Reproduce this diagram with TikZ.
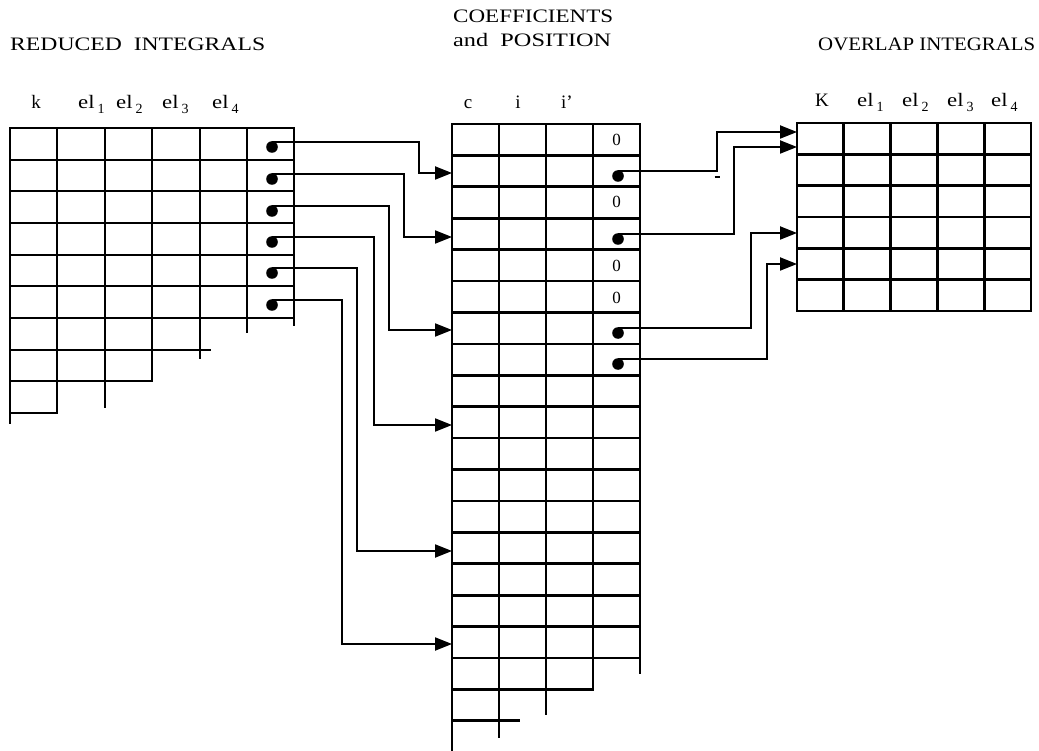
\documentclass[tikz,border=0pt]{standalone}
\usepackage{fontspec}
\setmainfont{Liberation Serif}
\usetikzlibrary{arrows.meta}
\newcommand{\hd}[2]{\resizebox{#1pt}{\height}{#2}}
\newcommand{\elx}[1]{\resizebox{1.2\width}{\height}{el}\hspace{3pt}\raisebox{-5pt}{\fontsize{14}{14}\selectfont #1}}
\tikzset{
  tbl/.style={line width=2.7pt, line cap=rect},
  conn/.style={line width=2.1pt},
  arr/.style={conn, -{Triangle[length=17pt,width=13pt]}},
  dotc/.style={fill=black, draw=none},
  head/.style={inner sep=0pt, font=\fontsize{19}{22}\selectfont},
  lbl/.style={inner sep=0pt, font=\fontsize{19}{22}\selectfont},
  zero/.style={inner sep=0pt, font=\fontsize{17}{18}\selectfont}
}
\begin{document}
\begin{tikzpicture}[x={(1pt,0)}, y={(0,-1pt)}]
\useasboundingbox (0,0) rectangle (1039,751);

% ---------- headings ----------
\node[head, anchor=base west] (hRed) at (10,51) {\hd{255}{REDUCED\ \ INTEGRALS}};
\node[head, anchor=base west] (hCoef) at (453,23) {\hd{160}{COEFFICIENTS}};
\node[head, anchor=base west] (hPos) at (453,47) {\hd{158}{and\ \ POSITION}};
\node[head, anchor=base west] (hOvl) at (818,51) {\hd{217}{OVERLAP INTEGRALS}};

% ---------- column labels ----------
\node[lbl, anchor=base] (lk) at (36,109) {k};
\node[lbl, anchor=base west] (le1) at (78,109) {\elx{1}};
\node[lbl, anchor=base west] (le2) at (116,109) {\elx{2}};
\node[lbl, anchor=base west] (le3) at (162,109) {\elx{3}};
\node[lbl, anchor=base west] (le4) at (212,109) {\elx{4}};

\node[lbl, anchor=base] (mc) at (468,109) {c};
\node[lbl, anchor=base] (mi) at (518,109) {i};
\node[lbl, anchor=base] (mip) at (567,109) {i\char"27};

\node[lbl, anchor=base] (rK) at (822,107) {K};
\node[lbl, anchor=base west] (re1) at (857,107) {\elx{1}};
\node[lbl, anchor=base west] (re2) at (902,107) {\elx{2}};
\node[lbl, anchor=base west] (re3) at (947,107) {\elx{3}};
\node[lbl, anchor=base west] (re4) at (991,107) {\elx{4}};

% ---------- left table (reduced integrals) ----------
\foreach \y in {128,160,191,223,255,286,318}
  \draw[tbl] (10,\y) -- (294,\y);
\foreach \x in {10,57,105,152,200,247,294}
  \draw[tbl] (\x,128) -- (\x,318);
\draw[tbl] (247,318) -- (247,332);
\draw[tbl] (294,318) -- (294,325);
\draw[tbl] (10,318) -- (10,423);
\draw[tbl] (57,318) -- (57,413);
\draw[tbl] (105,318) -- (105,407);
\draw[tbl] (152,318) -- (152,381);
\draw[tbl] (200,318) -- (200,358);
\draw[tbl] (10,350) -- (210,350);
\draw[tbl] (10,381) -- (152,381);
\draw[tbl] (10,413) -- (57,413);

% ---------- middle table (coefficients and position) ----------
\foreach \j in {0,...,17}
  \draw[tbl] (452,{124+31.41*\j}) -- (640,{124+31.41*\j});
\foreach \x in {452,499,546,593,640}
  \draw[tbl] (\x,124) -- (\x,658);
\draw[tbl] (640,658) -- (640,673);
\draw[tbl] (593,658) -- (593,689.4);
\draw[tbl] (546,658) -- (546,714);
\draw[tbl] (499,658) -- (499,737);
\draw[tbl] (452,658) -- (452,750);
\draw[tbl] (452,689.4) -- (593,689.4);
\draw[tbl] (452,720.8) -- (519,720.8);

\node[zero] (z1) at (616.5,140) {0};
\node[zero] (z3) at (616.5,202) {0};
\node[zero] (z5) at (616.5,266) {0};
\node[zero] (z6) at (616.5,297.5) {0};

% ---------- right table (overlap integrals) ----------
\foreach \j in {0,...,6}
  \draw[tbl] (797,{123+31.33*\j}) -- (1031,{123+31.33*\j});
\foreach \i in {0,...,5}
  \draw[tbl] ({797+46.8*\i},123) -- ({797+46.8*\i},311);

% ---------- connector end points ----------
\coordinate (L1) at (272,142);
\coordinate (L2) at (272,174);
\coordinate (L3) at (272,206);
\coordinate (L4) at (272,237);
\coordinate (L5) at (272,268);
\coordinate (L6) at (272,300);

\coordinate (M2) at (452,173);
\coordinate (M4) at (452,237);
\coordinate (M7) at (452,330);
\coordinate (M10) at (452,425);
\coordinate (M14) at (452,551);
\coordinate (M17) at (452,644);

\coordinate (D2) at (618,171);
\coordinate (D4) at (618,234);
\coordinate (D7) at (618,328);
\coordinate (D8) at (618,359);

\coordinate (R1a) at (797,132);
\coordinate (R1b) at (797,147);
\coordinate (R4) at (797,233);
\coordinate (R5) at (797,264);

% dots
\foreach \p in {L1,L2,L3,L4,L5,L6,D2,D4,D7,D8}
  \fill[dotc] ([yshift=-5pt]\p) circle (5.8);

% left -> middle
\draw[arr] (L1) -| ([xshift=-33pt]M2) -- (M2);
\draw[arr] (L2) -| ([xshift=-48pt]M4) -- (M4);
\draw[arr] (L3) -| ([xshift=-63pt]M7) -- (M7);
\draw[arr] (L4) -| ([xshift=-78pt]M10) -- (M10);
\draw[arr] (L5) -| ([xshift=-95pt]M14) -- (M14);
\draw[arr] (L6) -| ([xshift=-110pt]M17) -- (M17);

% middle -> right
\draw[arr] (D2) -| ([xshift=-80pt]R1a) -- (R1a);
\draw[arr] (D4) -| ([xshift=-63pt]R1b) -- (R1b);
\draw[arr] (D7) -| ([xshift=-46pt]R4) -- (R4);
\draw[arr] (D8) -| ([xshift=-30pt]R5) -- (R5);

% small stray mark
\coordinate (mk) at (717,177);
\draw[conn] ([xshift=-2.5pt]mk) -- ([xshift=2.5pt]mk);
\end{tikzpicture}
\end{document}
